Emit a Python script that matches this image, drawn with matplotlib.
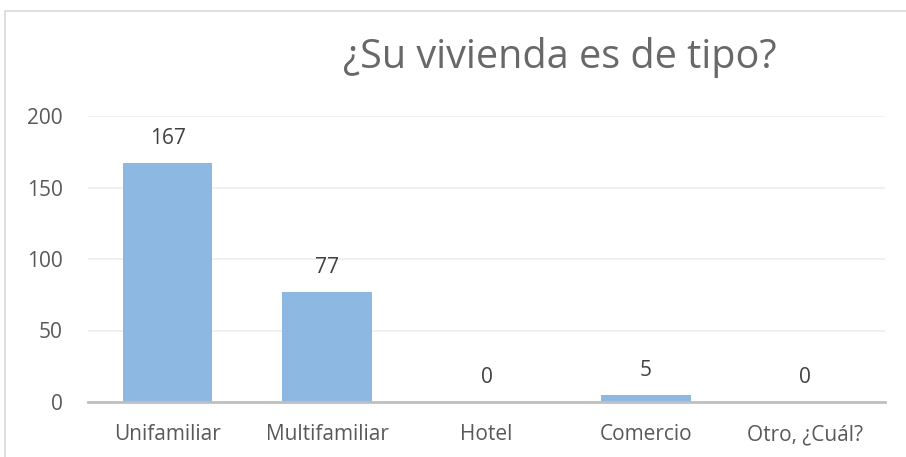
import matplotlib
matplotlib.use("Agg")
import matplotlib.pyplot as plt
from matplotlib.patches import Rectangle

categories = ["Unifamiliar", "Multifamiliar", "Hotel", "Comercio", "Otro, ¿Cuál?"]
values = [167, 77, 0, 5, 0]
yticks = [0, 50, 100, 150, 200]
title = "¿Su vivienda es de tipo?"

plt.rcParams['font.family'] = ['Open Sans', 'DejaVu Sans']
fig = plt.figure(figsize=(9.06, 4.57), dpi=100)
W, H = 906, 457
ax = fig.add_axes([88 / W, 1 - 402 / H, (885 - 88) / W, (402 - 116) / H])

x = list(range(len(categories)))
bars = ax.bar(x, values, width=0.56, color="#8DB8E2", zorder=3)
for xi, v in zip(x, values):
    ax.annotate(str(v), (xi, v), xytext=(0, 10), textcoords="offset points",
                ha="center", va="bottom", fontsize=15, color="#404040")

ax.set_xlim(-0.5, len(categories) - 0.5)
ax.set_ylim(0, 200)
ax.set_yticks(yticks)
ax.set_xticks(x)
ax.set_xticklabels(categories, fontsize=15, color="#595959")
ax.set_yticklabels([str(t) for t in yticks], fontsize=15, color="#595959")
ax.tick_params(axis="both", length=0)
ax.tick_params(axis="x", pad=16)
ax.tick_params(axis="y", pad=18)
ax.grid(axis="y", color="#EEEEEE", linewidth=1.2, zorder=0)
for s in ["top", "right", "left"]:
    ax.spines[s].set_visible(False)
ax.spines["bottom"].set_color("#BFBFBF")
ax.spines["bottom"].set_linewidth(2)
ax.spines["bottom"].set_zorder(4)

fig.text(560 / W, 1 - 58 / H, title, ha="center", va="center", fontsize=28.5,
         color="#686868")

fig.patches.append(Rectangle((5 / W, -0.1), 1.2, 1 - 11 / H + 0.1, transform=fig.transFigure,
                             fill=False, edgecolor="#D9D9D9", linewidth=1.2))

fig.savefig("out.png", dpi=100)
